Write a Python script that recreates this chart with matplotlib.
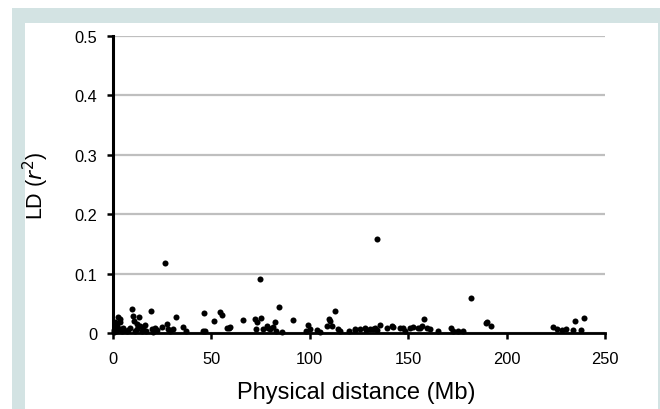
import matplotlib
matplotlib.use("Agg")
import matplotlib.pyplot as plt
from matplotlib.patches import Rectangle

plt.rcParams['font.family'] = ['Liberation Sans', 'DejaVu Sans']

x_ticks = [0, 50, 100, 150, 200, 250]
y_ticks = [0, 0.1, 0.2, 0.3, 0.4, 0.5]
x_ticklabels = ["0", "50", "100", "150", "200", "250"]
y_ticklabels = ["0", "0.1", "0.2", "0.3", "0.4", "0.5"]

distance_mb = [
    26.3, 74.5, 84.6, 134.3, 181.9, 9.5, 19.3, 46.0, 54.3, 55.4,
    10.2, 13.4, 2.6, 3.4, 32.0, 51.3, 66.2, 72.2, 75.0, 73.0,
    82.1, 91.3, 27.2, 10.8, 12.0, 3.4, 58.8, 35.7, 45.9, 85.7,
    78.1, 79.8, 83.0, 112.9, 109.6, 99.3, 108.5, 111.2, 158.0, 135.6,
    141.9, 189.4, 171.5, 100.0, 103.6, 115.3, 122.9, 125.4, 128.8, 132.2,
    133.9, 139.0, 145.8, 150.9, 156.0, 159.3, 161.0, 175.4, 178.0, 190.0,
    191.9, 239.3, 234.7, 223.7, 225.4, 227.9, 230.1, 233.8, 237.6, 1.7,
    5.2, 13.7, 15.4, 19.7, 21.3, 24.7, 28.1, 30.6, 6.9, 8.6,
    1.0, 3.6, 12.2, 14.5, 46.7, 57.7, 72.9, 76.3, 78.9, 81.1,
    110.3, 114.5, 123.0, 133.1, 142.4, 147.5, 152.6, 155.1, 156.8, 128.0,
    130.6, 59.4, 0.3, 0.5, 4.5, 7.5, 11.0, 17.0, 22.5, 37.0,
    1.5, 16.5, 20.5, 28.8, 98.0, 105.0, 120.0, 148.5, 165.0, 173.0,
    2.0,
]
ld_r2 = [
    0.118, 0.090, 0.044, 0.158, 0.059, 0.040, 0.037, 0.034, 0.036, 0.031,
    0.029, 0.027, 0.027, 0.024, 0.027, 0.020, 0.022, 0.023, 0.026, 0.019,
    0.018, 0.022, 0.015, 0.021, 0.015, 0.018, 0.008, 0.010, 0.004, 0.002,
    0.012, 0.007, 0.003, 0.037, 0.024, 0.013, 0.012, 0.011, 0.024, 0.014,
    0.011, 0.017, 0.008, 0.007, 0.005, 0.004, 0.005, 0.006, 0.005, 0.007,
    0.005, 0.008, 0.009, 0.008, 0.008, 0.008, 0.006, 0.004, 0.003, 0.018,
    0.011, 0.025, 0.020, 0.010, 0.007, 0.005, 0.006, 0.005, 0.005, 0.010,
    0.008, 0.012, 0.007, 0.007, 0.008, 0.010, 0.007, 0.006, 0.004, 0.008,
    0.018, 0.006, 0.006, 0.004, 0.004, 0.008, 0.007, 0.007, 0.008, 0.010,
    0.021, 0.006, 0.006, 0.008, 0.010, 0.008, 0.010, 0.008, 0.012, 0.008,
    0.006, 0.010, 0.002, 0.005, 0.003, 0.005, 0.004, 0.003, 0.005, 0.004,
    0.003, 0.014, 0.002, 0.003, 0.003, 0.002, 0.003, 0.003, 0.003, 0.003,
    0.012,
]

fig = plt.figure(figsize=(6.6, 4.1), dpi=100)
fig.patch.set_facecolor('white')
fig.patches.append(Rectangle((12/660, 0), 1 - 12/660, 1 - 9/410, transform=fig.transFigure,
                             facecolor='#d3e3e3', edgecolor='none', zorder=-10))
fig.patches.append(Rectangle((25/660, 0), 633/660, 1 - 24/410, transform=fig.transFigure,
                             facecolor='white', edgecolor='none', zorder=-9))

ax = fig.add_axes([113/660, 1 - 334/410, 492/660, (334 - 36.7)/410])
ax.set_facecolor('none')
ax.scatter(distance_mb, ld_r2, s=19, color='black', zorder=3, linewidths=0, clip_on=False)
ax.set_xlim(0, 250)
ax.set_ylim(0, 0.5)
ax.set_xticks(x_ticks)
ax.set_xticklabels(x_ticklabels)
ax.set_yticks(y_ticks)
ax.set_yticklabels(y_ticklabels)
ax.yaxis.grid(True, color='#bfbfbf', linewidth=1.6, zorder=0)
ax.set_axisbelow(True)
for s in ['top', 'right']:
    ax.spines[s].set_visible(False)
ax.spines['left'].set_linewidth(2.2)
ax.spines['bottom'].set_linewidth(2.0)
ax.tick_params(axis='both', direction='out', length=4.5, width=1.8, labelsize=11.8, colors='black')
ax.tick_params(axis='y', pad=7)
ax.tick_params(axis='x', pad=8.5)
ax.set_xlabel('Physical distance (Mb)', fontsize=17)
ax.set_ylabel(r'LD ($\mathit{r}^2$)', fontsize=15.5)
ax.xaxis.set_label_coords(0.495, -0.163)
ax.yaxis.set_label_coords(-0.126, 0.5)

fig.savefig('out.png', dpi=100)
